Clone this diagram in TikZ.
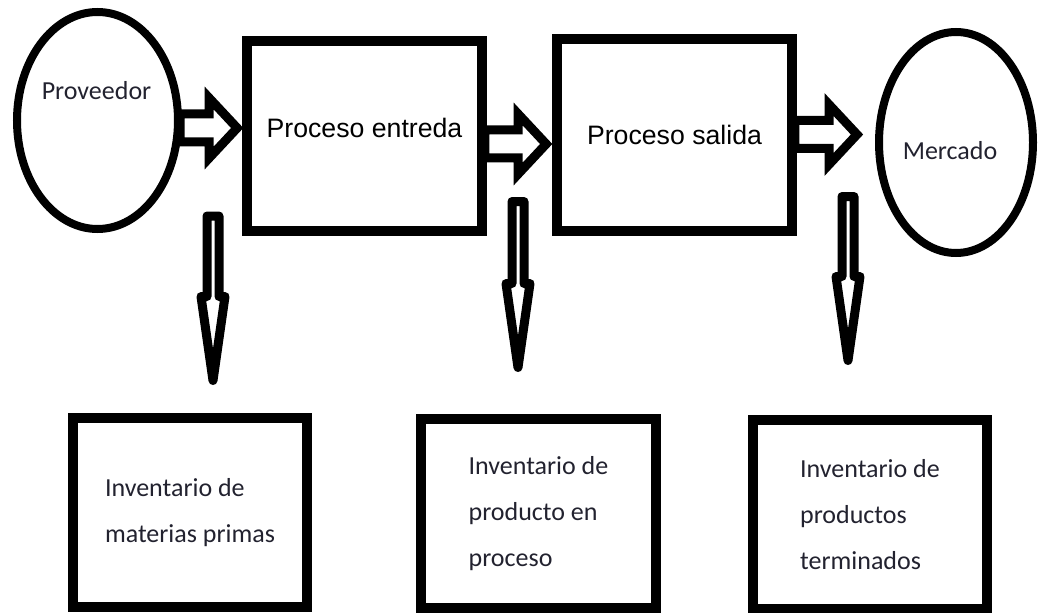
\documentclass[tikz,border=0pt]{standalone}
\usepackage{fontspec}
\setmainfont{Carlito}
\newfontfamily\arialfont{Liberation Sans}
\usetikzlibrary{shapes,calc}

\definecolor{ink}{HTML}{22222F}

\begin{document}
\begin{tikzpicture}[x=0.75pt,y=-0.75pt]
   \useasboundingbox (0,0) rectangle (1038,613);
   \tikzstyle{box}=[draw, line width=7.5pt, minimum width=176pt, minimum height=142pt, inner sep=0pt]
   \tikzstyle{oval}=[ellipse, draw, line width=6pt, inner sep=0pt]
   \tikzstyle{txt}=[text=ink, font=\fontsize{19.5}{34.5}\selectfont, align=left, inner sep=0pt]
   \tikzstyle{proc}=[font=\arialfont\fontsize{20}{24}\selectfont, anchor=base]
   \tikzstyle{hflow}=[draw, fill=white, line width=6.75pt, to path={($(\tikztostart |- \tikztotarget)+(-2,-14)$) -- ($(\tikztotarget)+(-34,-14)$) -- ($(\tikztotarget)+(-34,-30)$) -- ($(\tikztotarget)+(-6,0)$) -- ($(\tikztotarget)+(-34,30)$) -- ($(\tikztotarget)+(-34,14)$) -- ($(\tikztostart |- \tikztotarget)+(-2,14)$) -- cycle}]
   \tikzstyle{vflow}=[draw, fill=white, line width=6.75pt, line join=round, to path={($(\tikztostart)+(-6,0)$) -- ($(\tikztotarget)+(-6,-84)$) -- ($(\tikztotarget)+(-12,-84)$) -- (\tikztotarget) -- ($(\tikztotarget)+(12,-84)$) -- ($(\tikztotarget)+(6,-84)$) -- ($(\tikztostart)+(6,0)$) -- cycle}]

   \node[oval, minimum width=120.75pt, minimum height=162.75pt] (prov) at (97.5,120.5) {};
   \node[txt, anchor=base] at ($(prov)+(-1,-20.5)$) {Proveedor};
   \node[box] (entrada) at (364.5,136) {};
   \node[proc] at ($(entrada)+(0,2)$) {Proceso entreda};
   \node[box, minimum height=144pt] (salida) at (674.5,135) {};
   \node[proc] at ($(salida)+(0,10)$) {Proceso salida};
   \node[oval, minimum width=115.5pt, minimum height=165.75pt] (merc) at (956,142.5) {};
   \node[txt, anchor=base] at ($(merc)+(-6,17.5)$) {Mercado};

   \coordinate (inA) at ($(entrada.west)+(1,-8)$);
   \coordinate (inB) at ($(salida.west)+(0,9)$);
   \coordinate (inC) at ($(merc.west)+(-12,-8)$);
   \path[hflow] (prov.east) to (inA);
   \path[hflow] (entrada.east) to (inB);
   \path[hflow] (salida.east) to (inC);

   \foreach \i/\x/\top/\tip in {1/213/216/380.5,2/518/201.5/367.5,3/848/196.5/360.5}{
      \coordinate (top\i) at (\x,\top);
      \coordinate (tip\i) at (\x,\tip);
      \path[vflow] (top\i) to (tip\i);
   }

   \node[box, txt] (inv1) at (190,512.5) {Inventario de\\materias primas};
   \node[box, txt] (inv2) at (538.5,513.5) {Inventario de\\producto en\\proceso};
   \node[box, txt] (inv3) at (870,514.5) {Inventario de\\productos\\terminados};
\end{tikzpicture}
\end{document}
